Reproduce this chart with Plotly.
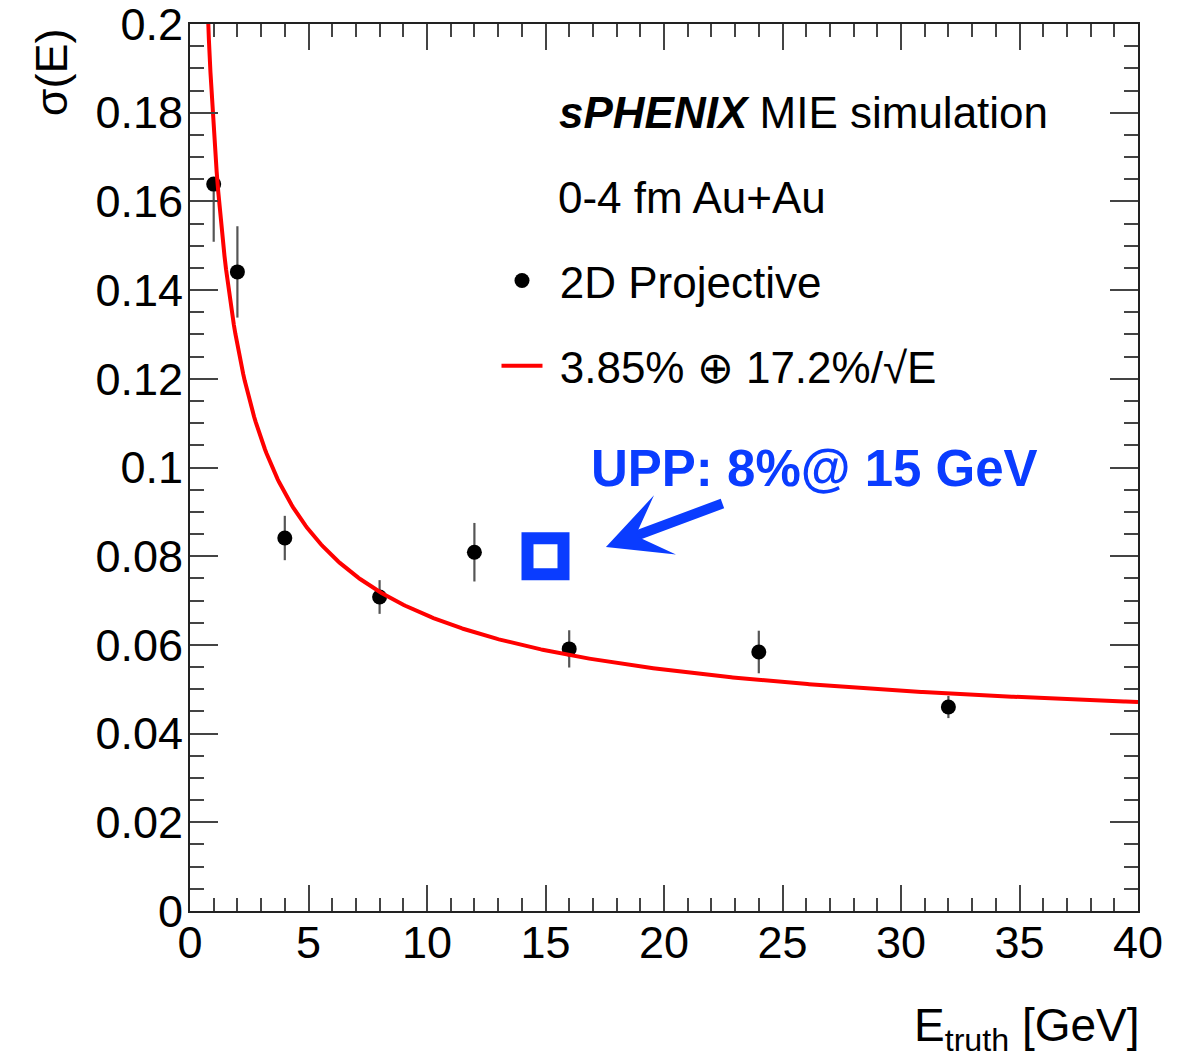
import numpy as np
import plotly.graph_objects as go

# Measured resolution points (2D projective clustering)
e_truth = [1, 2, 4, 8, 12, 16, 24, 32]
sigma_e = [0.1639, 0.1441, 0.0841, 0.0708, 0.0809, 0.0591, 0.0584, 0.0460]
err_up = [0.0, 0.0103, 0.0050, 0.0038, 0.0066, 0.0042, 0.0048, 0.0025]
err_down = [0.0130, 0.0103, 0.0050, 0.0038, 0.0066, 0.0042, 0.0048, 0.0025]

# Fit: constant term (+) stochastic term
const_term = 0.0385
stoch_term = 0.172

# UPP requirement
upp_energy = [15]
upp_sigma = [0.08]

x_ticks = [0, 5, 10, 15, 20, 25, 30, 35, 40]
y_ticks = [0, 0.02, 0.04, 0.06, 0.08, 0.1, 0.12, 0.14, 0.16, 0.18, 0.2]
y_tick_text = ["0", "0.02", "0.04", "0.06", "0.08", "0.1", "0.12", "0.14", "0.16", "0.18", "0.2"]

FONT = "Liberation Sans, Arial, Helvetica, sans-serif"
BLUE = "#0a3cff"
NBSP = "\u00a0"

e_fit = np.linspace(0.6, 40, 600)
sigma_fit = np.sqrt(const_term ** 2 + stoch_term ** 2 / e_fit)

fig = go.Figure()

fig.add_trace(go.Scatter(
    x=e_truth, y=sigma_e, mode="markers",
    name=NBSP + "2D Projective", legendgroup="pts",
    marker=dict(color="black", size=15, symbol="circle"),
    error_y=dict(type="data", symmetric=False, array=err_up, arrayminus=err_down,
                 color="#555555", thickness=2.2, width=0),
))

fig.add_trace(go.Scatter(
    x=e_fit, y=sigma_fit, mode="lines",
    name=NBSP + "3.85% \u2295 17.2%/\u221AE", legendgroup="fit",
    line=dict(color="#ff0000", width=4),
))

fig.add_trace(go.Scatter(
    x=upp_energy, y=upp_sigma, mode="markers", showlegend=False,
    marker=dict(symbol="square-open", size=36, color=BLUE, line=dict(color=BLUE, width=12)),
))

axis_common = dict(
    showline=True, linecolor="#222222", linewidth=2,
    ticks="inside", tickcolor="#444444", tickwidth=2,
    mirror="ticks", showgrid=False, zeroline=False,
    ticklabeloverflow="allow", automargin=False,
    tickfont=dict(family=FONT, size=45, color="black"),
)

fig.update_xaxes(
    range=[0, 40], tickvals=x_ticks, ticklen=26, ticklabelstandoff=-9,
    minor=dict(dtick=1, ticks="inside", ticklen=13, tickcolor="#444444", tickwidth=2, showgrid=False),
    **axis_common,
)
fig.update_yaxes(
    range=[0, 0.2], tickvals=y_ticks, ticktext=y_tick_text, ticklen=28, ticklabelstandoff=-4,
    minor=dict(dtick=0.005, ticks="inside", ticklen=14, tickcolor="#444444", tickwidth=2, showgrid=False),
    **axis_common,
)

annotations = [
    dict(text="<b><i>sPHENIX</i></b> MIE simulation", xref="paper", yref="paper",
         x=0.3871, y=0.8997, xanchor="left", yanchor="middle", showarrow=False,
         font=dict(family=FONT, size=44, color="black")),
    dict(text="0-4 fm Au+Au", xref="paper", yref="paper",
         x=0.3861, y=0.8039, xanchor="left", yanchor="middle", showarrow=False,
         font=dict(family=FONT, size=44, color="black")),
    dict(text="\u03C3(E)", xref="paper", yref="paper", x=-0.1460, y=0.997,
         xanchor="center", yanchor="top", textangle=-90, showarrow=False,
         font=dict(family=FONT, size=45, color="black")),
    dict(text="E<sub>truth</sub> [GeV]", xref="paper", yref="paper", x=1.004, y=-0.168,
         xanchor="right", yanchor="bottom", showarrow=False,
         font=dict(family=FONT, size=46, color="black")),
    dict(text="<b>UPP: 8%@ 15 GeV</b>", xref="paper", yref="paper",
         x=0.4213, y=0.4994, xanchor="left", yanchor="middle", showarrow=False,
         font=dict(family=FONT, size=51, color=BLUE)),
    dict(text="", xref="x", yref="y", x=17.55, y=0.0821,
         axref="pixel", ayref="pixel", ax=118, ay=-44,
         showarrow=True, arrowhead=3, arrowwidth=10, arrowsize=1.05,
         arrowcolor=BLUE, standoff=0),
]

fig.update_layout(
    width=1178, height=1064,
    margin=dict(l=190, r=40, t=24, b=153, autoexpand=False),
    paper_bgcolor="white", plot_bgcolor="white",
    font=dict(family=FONT, color="black"),
    annotations=annotations,
    showlegend=True,
    legend=dict(
        x=0.3233, y=0.7504, xanchor="left", yanchor="top",
        bgcolor="rgba(0,0,0,0)", borderwidth=0,
        font=dict(family=FONT, size=44, color="black"),
        tracegroupgap=25, itemwidth=41,
    ),
)

fig.write_html("out.html")
